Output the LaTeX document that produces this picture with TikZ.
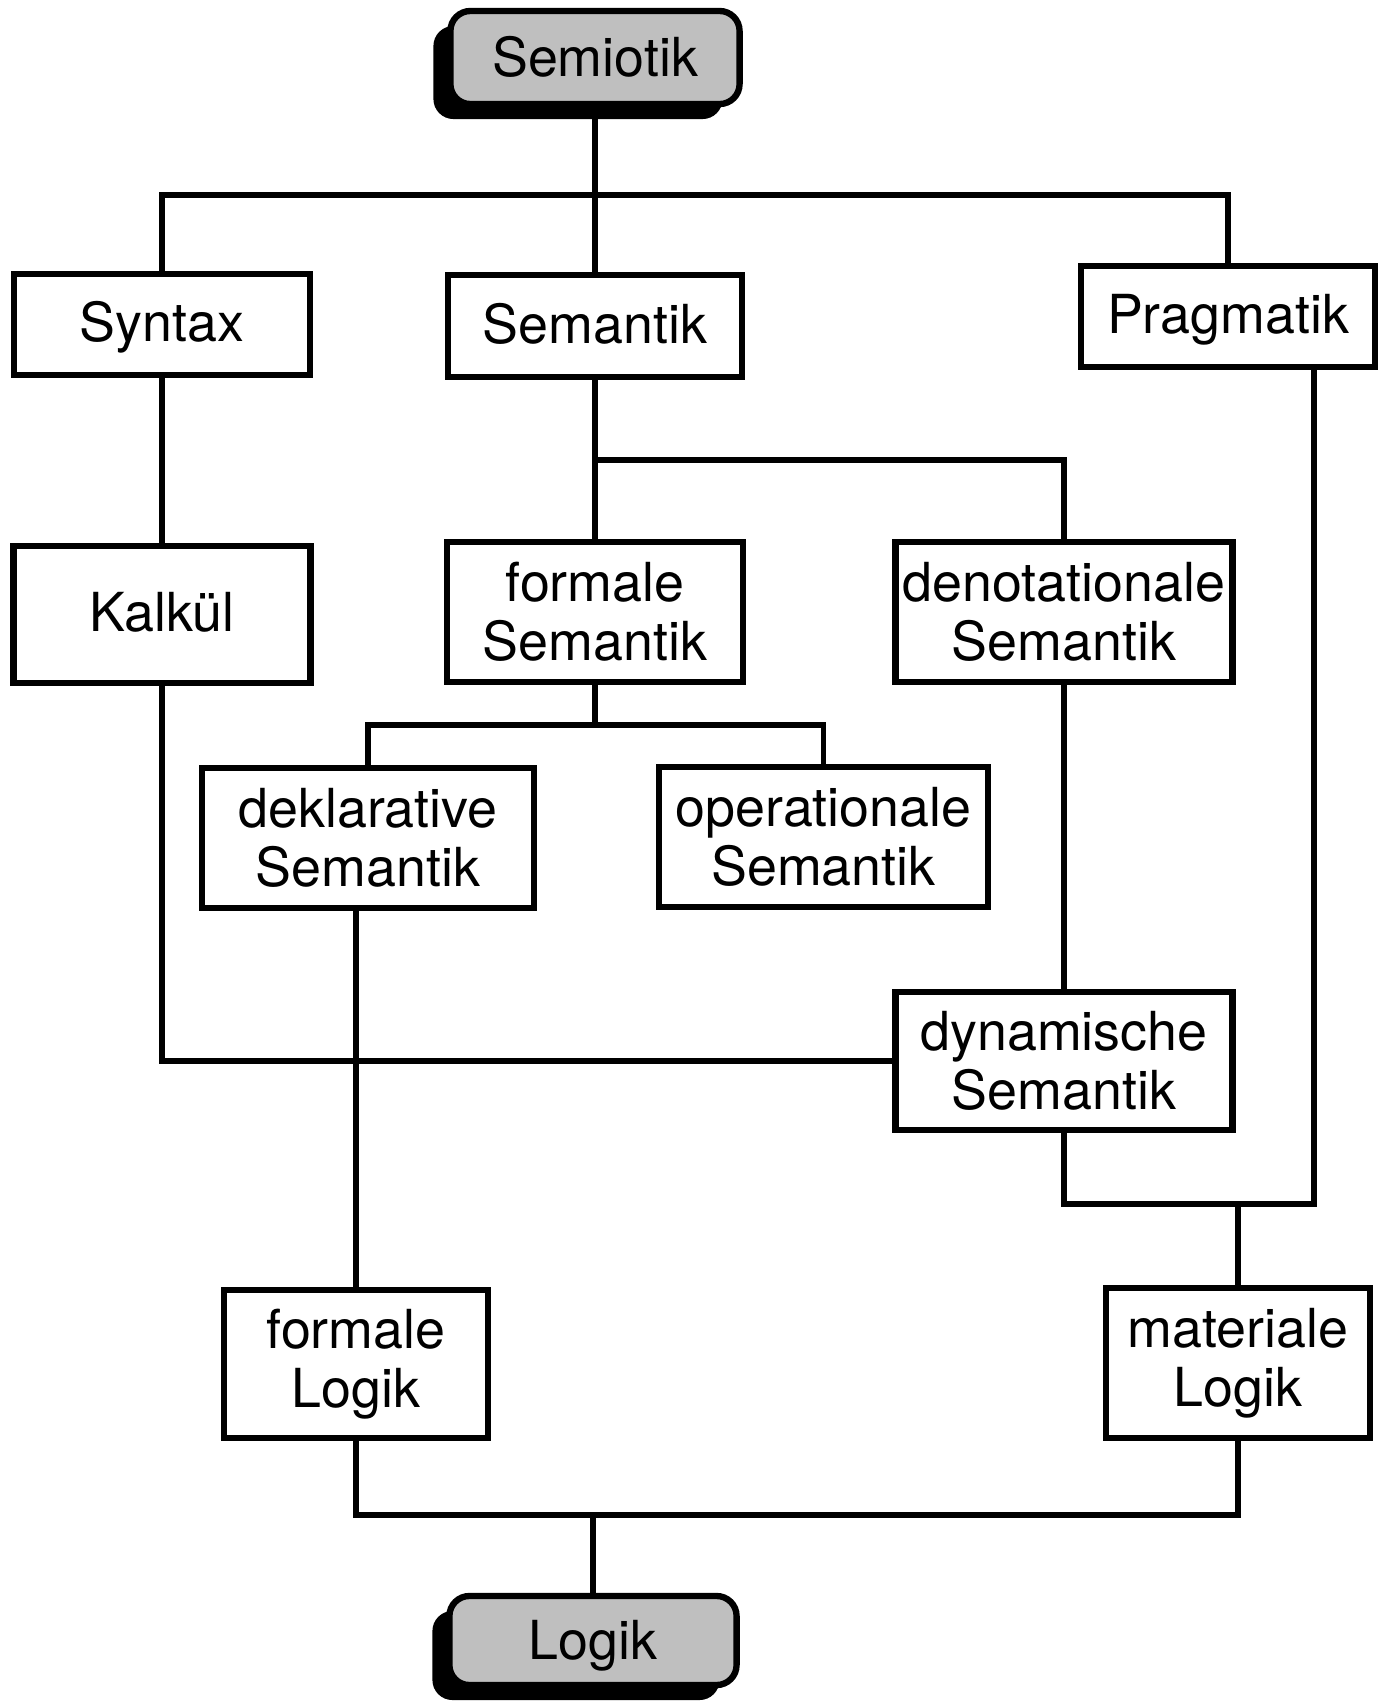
\documentclass[tikz,border=0pt]{standalone}
\usepackage{fontspec}
\setmainfont{TeX Gyre Heros}
\usetikzlibrary{calc}
\usetikzlibrary{shadows}
\tikzset{>=latex}
\tikzstyle{box} = [draw, line width = 1.8pt, align = center, inner sep = 0pt,
                   font = \fontsize{15.3}{16.8}\selectfont]
\tikzstyle{single} = [text height = 13pt, text depth = 3.3pt]
\tikzstyle{headbox} = [%
                   box, single,
                   text height = 14pt,
                   rounded corners = 0.2cm,
                   fill = black!25,
                   drop shadow = {shadow xshift=-0.17cm, shadow yshift=-0.15cm, fill=black, opacity=1}
                   ]
\tikzstyle{link} = [line width = 1.5pt]

\begin{document}
\begin{tikzpicture}[x=0.01cm, y=-0.01cm]
    % page frame (pixel units, y pointing down)
    \useasboundingbox (0,0) rectangle (1383,1702);

    % top and bottom of the hierarchy
    \node[headbox, minimum width=2.89cm, minimum height=0.93cm] (semiotik) at (595,57.5)   {Semiotik};
    \node[headbox, minimum width=2.87cm, minimum height=0.89cm] (logik)    at (593,1640.5) {Logik};

    % first level
    \node[box, single, minimum width=2.96cm, minimum height=1.01cm] (syntax)    at (162,324.5)  {Syntax};
    \node[box, single, minimum width=2.94cm, minimum height=1.02cm] (semantik)  at (595,326)    {Semantik};
    \node[box, single, minimum width=2.94cm, minimum height=1.01cm] (pragmatik) at (1228,316.5) {Pragmatik};

    % second level
    \node[box, single, minimum width=2.97cm, minimum height=1.37cm] (kalkuel)   at (162,614.5)  {Kalkül};
    \node[box, minimum width=2.96cm, minimum height=1.40cm] (formsem)   at (595,612)    {formale\\Semantik};
    \node[box, minimum width=3.37cm, minimum height=1.40cm] (denotsem)  at (1064,612)   {denotationale\\Semantik};

    % third level
    \node[box, minimum width=3.32cm, minimum height=1.40cm] (deklsem)   at (368,838)    {deklarative\\Semantik};
    \node[box, minimum width=3.29cm, minimum height=1.40cm] (opsem)     at (823.5,837)  {operationale\\Semantik};
    \node[box, minimum width=3.37cm, minimum height=1.38cm] (dynsem)    at (1064,1061)  {dynamische\\Semantik};

    % logics
    \node[box, minimum width=2.64cm, minimum height=1.48cm] (formlog)   at (356,1364)   {formale\\Logik};
    \node[box, minimum width=2.64cm, minimum height=1.50cm] (matlog)    at (1238,1363)  {materiale\\Logik};

    % junction points of the connectors
    \coordinate (top)     at (595,195);
    \coordinate (semjoin) at (595,460);
    \coordinate (fsjoin)  at (595,725);
    \coordinate (rjoin)   at (1314,1204);
    \coordinate (botjoin) at (593,1515);

    % connectors
    \draw[link] (semiotik) -- (semantik);
    \draw[link] (syntax.north) |- (top) -| (pragmatik.north);
    \draw[link] (syntax) -- (kalkuel);
    \draw[link] (kalkuel.south) |- (dynsem.west);
    \draw[link] (semantik) -- (formsem);
    \draw[link] (semjoin) -| (denotsem.north);
    \draw[link] (formsem.south) -- (fsjoin);
    \draw[link] (deklsem.north) |- (fsjoin) -| (opsem.north);
    \draw[link] (denotsem) -- (dynsem);
    \draw[link] (formlog.north |- deklsem.south) -- (formlog.north);
    \draw[link] (dynsem.south) |- (rjoin) -- (rjoin |- pragmatik.south);
    \draw[link] (matlog.north |- rjoin) -- (matlog.north);
    \draw[link] (formlog.south) |- (botjoin) -| (matlog.south);
    \draw[link] (botjoin) -- (logik);

\end{tikzpicture}
\end{document}
